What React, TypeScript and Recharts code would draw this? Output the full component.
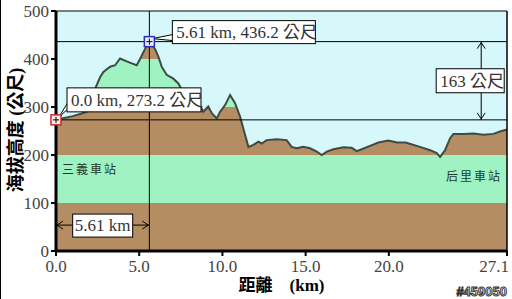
import React from "react";
import {
  ComposedChart,
  Area,
  XAxis,
  YAxis,
  CartesianGrid,
  ReferenceLine,
  ReferenceDot,
} from "recharts";

// elevation profile, 三義 -> 后里
const distanceKm = [
  0.0, 0.5, 1.0, 1.5, 2.0, 2.25, 2.35, 2.65, 2.85, 3.25, 3.55, 3.85, 4.25, 4.55, 4.85, 5.05, 5.35,
  5.61, 5.95, 6.15, 6.35, 6.65, 7.05, 7.35, 7.6, 7.9, 8.2, 8.45, 8.65, 8.85, 9.15, 9.36, 9.66, 9.86,
  10.16, 10.46, 10.76, 11.06, 11.36, 11.56, 11.86, 12.16, 12.36, 12.66, 13.26, 13.86, 14.16, 14.46,
  14.86, 15.26, 15.67, 15.97, 16.27, 16.67, 17.27, 17.77, 18.07, 18.37, 18.87, 19.37, 19.97, 20.5,
  21.0, 21.3, 21.87, 22.48, 22.88, 23.08, 23.38, 23.68, 23.88, 24.48, 25.08, 25.68, 26.28, 26.68, 27.1,
];
const elevationM = [
  273.2, 277, 281, 286, 292, 299, 338, 362, 373, 384, 387, 401, 395, 391, 387, 400, 421,
  436.2, 421, 405, 384, 367, 359, 349, 333, 320, 312, 305, 304, 290, 301, 287, 276, 290,
  304, 325, 308, 280, 242, 217, 221, 228, 224, 231, 233, 231, 217, 214,
  217, 214, 207, 200, 207, 212, 216, 215, 208, 212, 219, 226, 230, 226,
  226, 223, 217, 210, 204, 196, 210, 235, 244, 244, 245, 242, 244, 249, 253,
];

const xTicks = [0, 5, 10, 15, 20, 27.1];
const yTicks = [0, 100, 200, 300, 400, 500];
const bandEdges = [0, 100, 200, 300, 400, 500];
const bandColors = ["#b48d63", "#9ff2c1", "#b48d63", "#9ff2c1", "#b48d63"];

const markerKm = [0, 5.61];
const markerElev = [273.2, 436.2];
const markerLabels = ["0.0 km, 273.2 公尺", "5.61 km, 436.2 公尺"];
const markerColors = ["#d02828", "#2830b0"];
const markerFill = ["#ffe8e8", "#e8ecff"];

const stationNames = ["三義車站", "后里車站"];
const stationKm = [0, 27.1];
const stationElev = [169, 156];

const riseArrowKm = 25.55;
const runArrowElev = 54;

const SERIF = "'Liberation Serif', 'Noto Sans CJK TC', serif";

const profile = distanceKm.map((km, i) => ({ km, elev: elevationM[i] }));
const maxElev = Math.max(...elevationM);

// hard-stop gradient, relative to the area's bounding box (top = maxElev, bottom = 0)
const offsetOf = (v: number) => Math.min(1, Math.max(0, (maxElev - v) / maxElev));
const groundStops: { offset: number; color: string }[] = [];
for (let i = bandColors.length - 1; i >= 0; i--) {
  groundStops.push({ offset: offsetOf(bandEdges[i + 1]), color: bandColors[i] });
  groundStops.push({ offset: offsetOf(bandEdges[i]), color: bandColors[i] });
}

const XTick = (props: any) => {
  const { x, y, payload } = props;
  const last = payload.value === xTicks[xTicks.length - 1];
  return (
    <text
      x={last ? x + 2 : x}
      y={y + 14}
      textAnchor={last ? "end" : "middle"}
      fontSize={17}
      fontFamily={SERIF}
      fill="#444"
    >
      {payload.value.toFixed(1)}
    </text>
  );
};

const labelBox = [
  { dx: 11, dy: -32, w: 134, h: 24 },
  { dx: 23, dy: -21, w: 143, h: 23 },
];

const Marker = ({ cx, cy, idx }: any) => {
  const b = labelBox[idx];
  const left = cx + b.dx;
  const top = cy + b.dy;
  return (
    <g>
      <polygon
        points={`${cx + 3},${cy - 3} ${left + 1},${top + b.h * 0.6} ${left + 1},${top + b.h - 3}`}
        fill="#fff"
        stroke="#000"
        strokeWidth={1}
      />
      <rect x={left} y={top} width={b.w} height={b.h} fill="#fff" stroke="#000" strokeWidth={1} />
      <text x={left + 4} y={top + b.h - 6} fontSize={17} fontFamily={SERIF} fill="#333">
        {markerLabels[idx]}
      </text>
      <rect x={cx - 5} y={cy - 5} width={10} height={10} fill={markerFill[idx]} stroke={markerColors[idx]} strokeWidth={1.5} />
      <line x1={cx - 3} y1={cy} x2={cx + 3} y2={cy} stroke="#000" strokeWidth={1} />
      <line x1={cx} y1={cy - 3} x2={cx} y2={cy + 3} stroke="#000" strokeWidth={1} />
    </g>
  );
};

const Station = ({ cx, cy, idx }: any) => {
  const first = idx === 0;
  return (
    <text
      x={first ? cx + 6 : cx - 5}
      y={cy + 4.5}
      textAnchor={first ? "start" : "end"}
      fontSize={12}
      letterSpacing={2}
      fontFamily="'Noto Sans CJK TC', serif"
      fill="#1f3a2c"
    >
      {stationNames[idx]}
    </text>
  );
};

const RiseArrow = ({ x1, y1, x2, y2 }: any) => {
  const mid = (y1 + y2) / 2;
  const top = Math.min(y1, y2);
  const bottom = Math.max(y1, y2);
  const txt = `${Math.round(markerElev[1] - markerElev[0])} 公尺`;
  return (
    <g>
      <line x1={x1} y1={top} x2={x2} y2={bottom} stroke="#000" strokeWidth={1} />
      <polyline points={`${x1 - 4},${top + 7} ${x1},${top + 1} ${x1 + 4},${top + 7}`} fill="none" stroke="#000" />
      <polyline points={`${x1 - 4},${bottom - 7} ${x1},${bottom - 1} ${x1 + 4},${bottom - 7}`} fill="none" stroke="#000" />
      <rect x={x1 - 45} y={mid - 12} width={68} height={24} fill="#fff" stroke="#000" />
      <text x={x1 - 41} y={mid + 6} fontSize={17} fontFamily={SERIF} fill="#333">
        {txt}
      </text>
    </g>
  );
};

const RunArrow = ({ x1, y1, x2 }: any) => {
  const mid = (x1 + x2) / 2;
  const txt = `${(markerKm[1] - markerKm[0]).toFixed(2)} km`;
  return (
    <g>
      <line x1={x1} y1={y1} x2={x2} y2={y1} stroke="#000" strokeWidth={1} />
      <polyline points={`${x1 + 7},${y1 - 4} ${x1 + 1},${y1} ${x1 + 7},${y1 + 4}`} fill="none" stroke="#000" />
      <polyline points={`${x2 - 7},${y1 - 4} ${x2 - 1},${y1} ${x2 - 7},${y1 + 4}`} fill="none" stroke="#000" />
      <rect x={mid - 30} y={y1 - 11} width={60} height={23} fill="#fff" stroke="#000" />
      <text x={mid} y={y1 + 6} textAnchor="middle" fontSize={17} fontFamily={SERIF} fill="#333">
        {txt}
      </text>
    </g>
  );
};

const YTitle = (props: any) => {
  const vb = props.viewBox || { x: 0, y: 11, width: 56, height: 240 };
  const cx = vb.x + 16;
  const cy = vb.y + vb.height / 2 - 1;
  return (
    <text
      x={cx}
      y={cy}
      transform={`rotate(-90 ${cx} ${cy})`}
      textAnchor="middle"
      dominantBaseline="central"
      fontSize={18}
      fontWeight="bold"
      fontFamily={SERIF}
      fill="#000"
    >
      海拔高度 (公尺)
    </text>
  );
};

const XTitle = (props: any) => {
  const vb = props.viewBox || { x: 56, y: 251, width: 451, height: 48 };
  return (
    <g>
      <text
        x={vb.x + vb.width / 2}
        y={vb.y + 40}
        textAnchor="middle"
        fontSize={17}
        fontWeight="bold"
        fontFamily={SERIF}
        fill="#000"
      >
        距離　(km)
      </text>
      <text
        x={vb.x + vb.width}
        y={vb.y + 45}
        textAnchor="end"
        fontSize={13}
        fontWeight="bold"
        fontFamily="'Liberation Sans', sans-serif"
        fill="#e8e8e8"
        stroke="#333"
        strokeWidth={0.9}
      >
        #459050
      </text>
    </g>
  );
};

export default function App() {
  return (
    <div
      style={{
        position: "absolute",
        left: 0,
        top: 0,
        width: 512,
        height: 299,
        background: "#fff",
        boxShadow: "inset 1px 0 0 #000",
        fontFamily: SERIF,
      }}
    >
      <ComposedChart width={512} height={299} data={profile} margin={{ top: 11, right: 5, left: 0, bottom: 0 }}>
        <defs>
          <linearGradient id="ground" x1="0" y1="0" x2="0" y2="1">
            {groundStops.map((s, i) => (
              <stop key={i} offset={s.offset} stopColor={s.color} />
            ))}
          </linearGradient>
        </defs>
        <CartesianGrid horizontal={false} vertical={false} fill="#d7f8fb" stroke="none" />
        <XAxis
          type="number"
          dataKey="km"
          domain={[0, 27.1]}
          ticks={xTicks}
          interval={0}
          height={48}
          tick={<XTick />}
          tickSize={5}
          tickLine={{ stroke: "#000", strokeWidth: 2 }}
          axisLine={{ stroke: "#000", strokeWidth: 3 }}
          label={(p: any) => <XTitle {...p} />}
        />
        <YAxis
          type="number"
          domain={[0, 500]}
          ticks={yTicks}
          interval={0}
          width={56}
          tickSize={5}
          tick={{ fontSize: 17, fill: "#444", fontFamily: SERIF }}
          tickLine={{ stroke: "#000", strokeWidth: 2 }}
          axisLine={{ stroke: "#000", strokeWidth: 3 }}
          label={(p: any) => <YTitle {...p} />}
        />
        <Area
          type="linear"
          dataKey="elev"
          baseValue={0}
          fill="url(#ground)"
          fillOpacity={1}
          stroke="#3f4a44"
          strokeWidth={2}
          dot={false}
          activeDot={false}
          isAnimationActive={false}
        />
        <ReferenceLine y={500} stroke="#000" strokeWidth={1} />
        <ReferenceLine x={27.1} stroke="#000" strokeWidth={1.5} />
        <ReferenceLine y={markerElev[0]} stroke="#000" strokeWidth={1} />
        <ReferenceLine y={markerElev[1]} stroke="#000" strokeWidth={1} />
        <ReferenceLine x={markerKm[1]} stroke="#000" strokeWidth={1} />
        <ReferenceLine
          segment={[
            { x: riseArrowKm, y: markerElev[1] },
            { x: riseArrowKm, y: markerElev[0] },
          ]}
          shape={(p: any) => <RiseArrow {...p} />}
        />
        <ReferenceLine
          segment={[
            { x: markerKm[0], y: runArrowElev },
            { x: markerKm[1], y: runArrowElev },
          ]}
          shape={(p: any) => <RunArrow {...p} />}
        />
        {stationNames.map((n, i) => (
          <ReferenceDot
            key={n}
            x={stationKm[i]}
            y={stationElev[i]}
            shape={(p: any) => <Station {...p} idx={i} />}
          />
        ))}
        {markerKm.map((km, i) => (
          <ReferenceDot
            key={"m" + i}
            x={km}
            y={markerElev[i]}
            shape={(p: any) => <Marker {...p} idx={i} />}
          />
        ))}
      </ComposedChart>
    </div>
  );
}
